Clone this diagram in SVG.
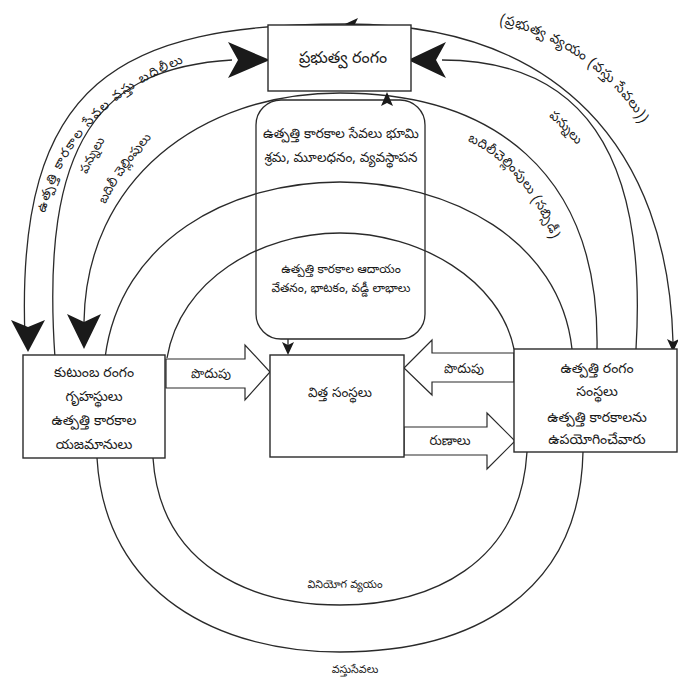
<svg xmlns="http://www.w3.org/2000/svg" width="678" height="681" viewBox="0 0 678 681">
<style>
.bg{fill:#fff}
.box{fill:#fff;stroke:#2a2a2a;stroke-width:1.4}
.ln{fill:none;stroke:#2a2a2a;stroke-width:1.3}
.blk{fill:#fff;stroke:#2a2a2a;stroke-width:1.2}
.ah{fill:#1a1a1a;stroke:none}
.t{font-family:"Noto Sans Telugu","Noto Sans","DejaVu Sans",sans-serif;font-size:11px;fill:#1a1a1a;text-anchor:middle}
.s12{font-size:12px}
.s125{font-size:12.5px}
.s13{font-size:13px}
.s135{font-size:13.5px}
.s14{font-size:14px}
.s16{font-size:16px}
</style>
<defs>
<path id="pLeftOuter" d="M 38 262 C 44 152 106 80 232 47"/>
<path id="pRightOuter" d="M 468 17 C 555 28 626 78 656 152"/>
<path id="pLeftTax" d="M 83 184 Q 93 157 111 131"/>
<path id="pLeftTrans" d="M 97 223 Q 118 169 166 123"/>
<path id="pRightTax" d="M 543 111 Q 563 128 582 151"/>
<path id="pRightTrans" d="M 455 136 C 500 151 536 189 557 252"/>
</defs>
<rect class="bg" x="0" y="0" width="678" height="681"/>

<g id="connectors">
<path class="ln" d="M 25 338 C 15 80 120 24 346 24 C 560 24 668 150 673 342"/>
<path class="ln" d="M 55 358 C 40 140 100 68 232 60"/>
<path class="ln" d="M 442 60 C 580 60 648 150 636 349"/>
<path class="ln" d="M 84 322 C 86 180 200 93 340 93 C 490 93 600 170 597 349"/>
<path class="ln" d="M 105 358 C 120 240 230 182 340 182 C 450 182 560 240 572 349"/>
<path class="ln" d="M 167 358 C 180 280 260 233 340 233 C 420 233 500 280 514 349"/>
<path class="ln" d="M 153 458 C 160 565 250 605 340 605 C 430 605 520 565 527 452"/>
<path class="ln" d="M 97 458 C 105 595 220 652 340 652 C 470 652 580 595 583 452"/>
<rect class="ln" x="256" y="100" width="169" height="239" rx="25"/>
<line class="ln" x1="288" y1="339" x2="288" y2="346"/>
<line class="ln" x1="387" y1="100" x2="387" y2="96"/>
<polygon class="blk" points="166,359 245,359 245,345 270,372 245,400 245,388 166,388"/>
<polygon class="blk" points="514,353 432,353 432,340 404,368 432,395 432,382 514,382"/>
<polygon class="blk" points="404,427 487,427 487,413 515,441 487,469 487,455 404,455"/>
<path class="ah" d="M 11 320 L 28 327 L 45 320 L 28 352 Z"/>
<path class="ah" d="M 67 314 L 84 322 L 101 314 L 84 349 Z"/>
<path class="ah" d="M 228 42 L 238 60 L 228 78 L 270 60 Z"/>
<path class="ah" d="M 446 42 L 436 60 L 446 78 L 408 60 Z"/>
<path class="ah" d="M 345 24 L 358 18 L 355 24 L 358 30 Z"/>
<path class="ah" d="M 387 92 L 393 106 L 387 103 L 381 106 Z"/>
<path class="ah" d="M 288 355 L 282 342 L 288 345 L 294 342 Z"/>
<path class="ah" d="M 673 352 L 667 339 L 673 342 L 679 339 Z"/>
</g>

<g id="government">
<rect class="box" x="268" y="25" width="143" height="66"/>
<text class="t s16" x="343" y="63">ప్రభుత్వ రంగం</text>
</g>

<g id="households">
<rect class="box" x="23" y="355" width="142" height="103"/>
<text class="t s14" x="94" y="377">కుటుంబ రంగం</text>
<text class="t s14" x="94" y="401">గృహస్థులు</text>
<text class="t s14" x="94" y="425">ఉత్పత్తి కారకాల</text>
<text class="t s14" x="94" y="449">యజమానులు</text>
</g>

<g id="financial">
<rect class="box" x="270" y="355" width="134" height="102"/>
<text class="t s135" x="340" y="397">విత్త సంస్థలు</text>
</g>

<g id="firms">
<rect class="box" x="514" y="349" width="163" height="103"/>
<text class="t s14" x="597" y="373">ఉత్పత్తి రంగం</text>
<text class="t s14" x="597" y="396">సంస్థలు</text>
<text class="t s14" x="597" y="422">ఉత్పత్తి కారకాలను</text>
<text class="t s14" x="597" y="444">ఉపయోగించేవారు</text>
</g>

<g id="labels">
<text class="t s135" x="341" y="138">ఉత్పత్తి కారకాల సేవలు భూమి</text>
<text class="t s135" x="341" y="162">శ్రమ, మూలధనం, వ్యవస్థాపన</text>
<text class="t s12" x="341" y="273">ఉత్పత్తి కారకాల ఆదాయం</text>
<text class="t s12" x="341" y="292">వేతనం, భాటకం, వడ్డీ లాభాలు</text>
<text class="t s13" x="211" y="378">పొదుపు</text>
<text class="t s13" x="464" y="373">పొదుపు</text>
<text class="t s13" x="450" y="445">రుణాలు</text>
<text class="t" x="345" y="588">వినియోగ వ్యయం</text>
<text class="t" x="355" y="673">వస్తుసేవలు</text>
<text class="t s13" letter-spacing="1.6"><textPath href="#pLeftOuter" startOffset="50%">ఉత్పత్తి కారకాల సేవల వస్తు బదిలీలు</textPath></text>
<text class="t s135" letter-spacing="0.6"><textPath href="#pRightOuter" startOffset="50%">(ప్రభుత్వ వ్యయం (వస్తు సేవలు))</textPath></text>
<text class="t s125"><textPath href="#pLeftTax" startOffset="50%">పన్నులు</textPath></text>
<text class="t s125"><textPath href="#pLeftTrans" startOffset="50%">బదిలీ చెల్లింపులు</textPath></text>
<text class="t s13"><textPath href="#pRightTax" startOffset="50%">పన్నులు</textPath></text>
<text class="t s13" letter-spacing="0.4"><textPath href="#pRightTrans" startOffset="50%">బదిలీచెల్లింపులు (సబ్సిడీ)</textPath></text>
</g>
</svg>
